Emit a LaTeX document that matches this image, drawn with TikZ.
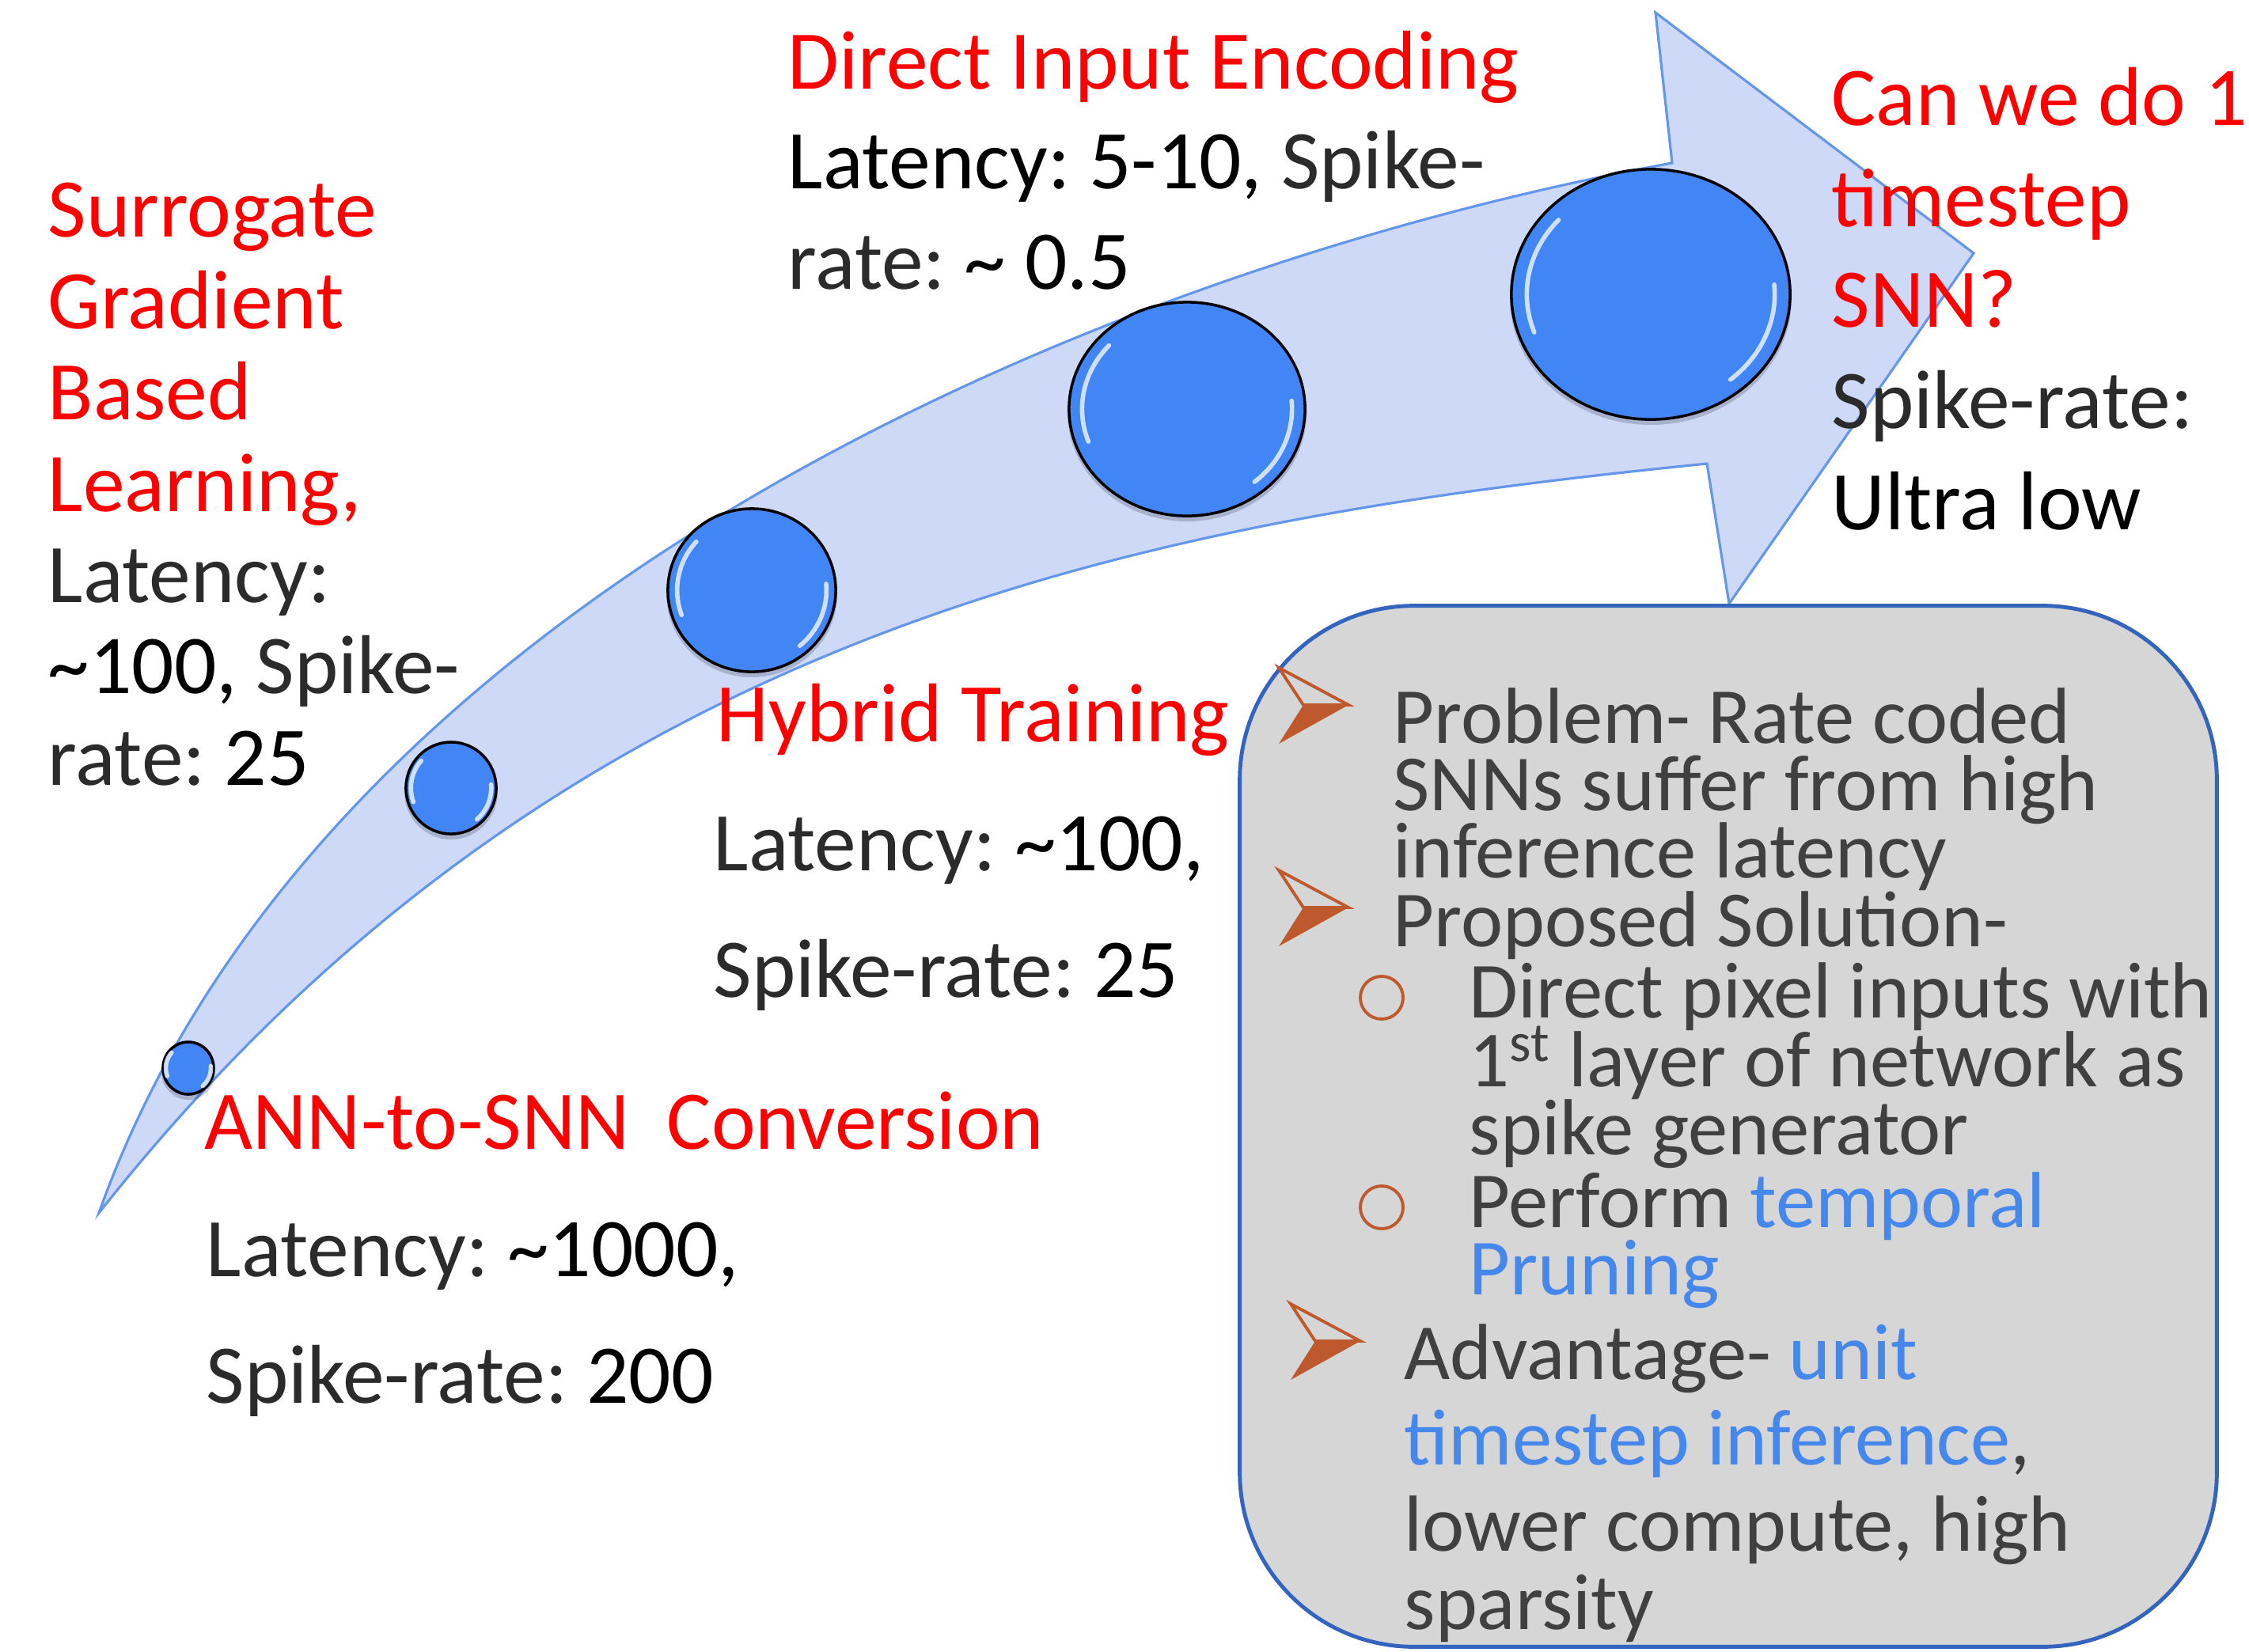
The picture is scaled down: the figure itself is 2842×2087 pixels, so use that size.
\documentclass[tikz,border=0pt]{standalone}
\usepackage{fontspec}
\setmainfont{Carlito}
\frenchspacing
\usetikzlibrary{shapes.geometric}
\definecolor{arrfill}{RGB}{206,217,248}
\definecolor{arrline}{RGB}{100,150,235}
\definecolor{beadcol}{RGB}{66,133,244}
\definecolor{ttl}{RGB}{255,0,0}
\definecolor{dk}{RGB}{43,43,43}
\definecolor{boxtxt}{RGB}{64,64,64}
\definecolor{hl}{RGB}{70,135,235}
\definecolor{bul}{RGB}{190,88,45}
\definecolor{boxfill}{RGB}{214,214,214}
\definecolor{boxline}{RGB}{52,100,190}
\newcommand\mybead[5]{%
  \fill[black, opacity=0.18] (#2,#3+5) ellipse[x radius={#4+2}, y radius={#5+2}];
  \node[beadstyle, minimum width={#4*0.02cm}, minimum height={#5*0.02cm}] (#1) at (#2,#3) {};
  \begin{scope}[shift={(#2,#3)}]
    \draw[gloss] (160:{0.89*#4} and {0.89*#5}) arc[start angle=160, end angle=222, x radius={0.89*#4}, y radius={0.89*#5}];
    \draw[gloss] (-5:{0.89*#4} and {0.89*#5}) arc[start angle=-5, end angle=50, x radius={0.89*#4}, y radius={0.89*#5}];
  \end{scope}}
\newcommand\arrowbullet[2]{%
  \draw[bul, line width=1.1pt, line join=miter] ({#1-88},{#2-47}) -- (#1,#2) -- ({#1-57},#2) -- cycle;
  \fill[bul] ({#1-57},#2) -- (#1,#2) -- ({#1-88},{#2+49}) -- cycle;}
\begin{document}
\begin{tikzpicture}[x=0.01cm,y=-0.01cm,
  big/.style={anchor=base west, inner sep=0pt, font=\fontsize{30pt}{36pt}\selectfont},
  ttltxt/.style={big, text=ttl},
  dtxt/.style={big, text=dk},
  btxt/.style={anchor=base west, inner sep=0pt, text=boxtxt, font=\fontsize{28.6pt}{34pt}\selectfont},
  beadstyle/.style={ellipse, draw=black, line width=1pt, fill=beadcol, inner sep=0pt},
  gloss/.style={white, line width=1.6pt, opacity=0.75, line cap=round},
]
\useasboundingbox (0,0) rectangle (2842,2087);
\fill[white] (0,0) rectangle (2842,2087);

% big curved arrow
\filldraw[fill=arrfill, draw=arrline, line width=0.9pt, line join=miter]
  (125,1533) .. controls (400,760) and (1380,340) .. (2113,206)
  -- (2092,16) -- (2494,320) -- (2185,763) -- (2157,586)
  .. controls (1460,656) and (714,787) .. (125,1533)
  -- cycle;

% beads
\mybead{c1}{238}{1350}{32}{33}
\mybead{c2}{570}{996}{57}{58}
\mybead{c3}{950}{746}{106}{103}
\mybead{c4}{1500}{517}{149}{135}
\mybead{c5}{2086}{372}{176}{158}

% left text block
\node[ttltxt] (s1) at (60,299) {Surrogate};
\node[ttltxt] (s2) at (60,415) {Gradient};
\node[ttltxt] (s3) at (60,530) {Based};
\node[ttltxt] (s4) at (60,646) {Learning,};
\node[dtxt] (s5) at (60,761) {Latency:};
\node[dtxt] (s6) at (60,876) {\textcolor{black}{\textasciitilde100,} Spike-};
\node[dtxt] (s7) at (60,992) {rate: \textcolor{black}{25}};

% direct input encoding
\node[ttltxt] (d1) at (995,112) {Direct Input Encoding};
\node[dtxt] (d2) at (995,238) {\textcolor{black}{Latency: 5-10,} Spike-};
\node[dtxt] (d3) at (995,365) {rate: \textcolor{black}{\textasciitilde{} 0.5}};

% question
\node[ttltxt] (q1) at (2314,158) {Can we do 1};
\node[ttltxt] (q2) at (2314,286) {timestep};
\node[ttltxt] (q3) at (2314,413) {SNN?};
\node[dtxt] (q4) at (2314,541) {Spike-rate:};
\node[big, text=black] (q5) at (2314,669) {Ultra low};

% hybrid
\node[ttltxt] (h1) at (905,937) {Hybrid Training};
\node[dtxt] (h2) at (901,1100) {Latency: \textcolor{black}{\textasciitilde100,}};
\node[dtxt] (h3) at (901,1260) {Spike-rate: \textcolor{black}{25}};

% ann
\node[ttltxt] (a1) at (258,1452) {ANN-to-SNN\ \ Conversion};
\node[dtxt] (a2) at (260,1613) {Latency: \textcolor{black}{\textasciitilde1000,}};
\node[dtxt] (a3) at (260,1773) {Spike-rate: \textcolor{black}{200}};

% box
\node[draw=boxline, fill=boxfill, line width=1.4pt, rounded corners=2.2cm,
      minimum width=12.34cm, minimum height=13.15cm, inner sep=0pt] (box) at (2184,1423.5) {};

\arrowbullet{1704}{891}
\arrowbullet{1704}{1147}
\arrowbullet{1719}{1695}
\draw[bul, line width=1.1pt] (1746,1261) circle[radius=0.27cm];
\draw[bul, line width=1.1pt] (1746,1526) circle[radius=0.27cm];

\node[btxt] (b1) at (1760,939) {Problem- Rate coded};
\node[btxt] (b2) at (1760,1024) {SNNs suffer from high};
\node[btxt] (b3) at (1760,1109) {inference latency};
\node[btxt] (b4) at (1760,1196) {Proposed Solution-};
\node[btxt] (b5) at (1856,1286) {Direct pixel inputs with};
\node[btxt] (b6) at (1856,1373) {1\textsuperscript{st} layer of network as};
\node[btxt] (b7) at (1856,1459) {spike generator};
\node[btxt] (b8) at (1856,1551) {Perform \textcolor{hl}{temporal}};
\node[btxt] (b9) at (1856,1636) {\textcolor{hl}{Pruning}};
\node[btxt] (b10) at (1774,1743) {Advantage- \textcolor{hl}{unit}};
\node[btxt] (b11) at (1774,1851) {\textcolor{hl}{timestep inference},};
\node[btxt] (b12) at (1774,1960) {lower compute, high};
\node[btxt] (b13) at (1774,2059) {sparsity};
\end{tikzpicture}
\end{document}
